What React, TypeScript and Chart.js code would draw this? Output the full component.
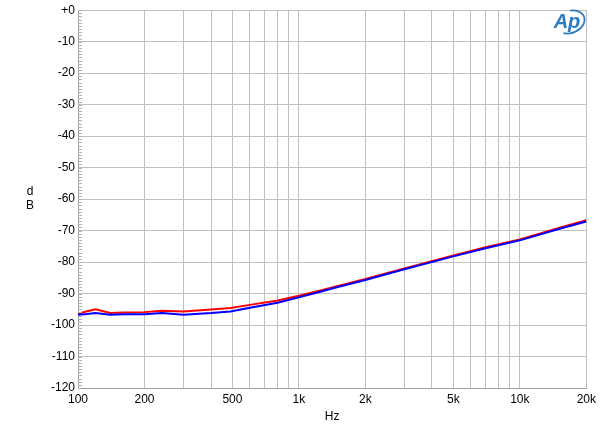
import React, { useEffect, useRef } from "react";
import { Chart, registerables } from "chart.js";

Chart.register(...registerables);

const freqs = [100, 110, 120, 140, 160, 200, 240, 300, 400, 490, 600, 800, 1000, 1250, 1500, 2000, 3000, 5000, 7000, 10000, 15000, 20000];
const redDb = [-96.4, -95.6, -95.0, -96.2, -96.0, -95.9, -95.5, -95.7, -95.1, -94.6, -93.6, -92.2, -90.7, -89.0, -87.6, -85.4, -82.0, -77.9, -75.3, -72.8, -69.2, -66.7];
const blueDb = [-96.7, -96.5, -96.2, -96.7, -96.6, -96.6, -96.2, -96.7, -96.2, -95.7, -94.5, -92.9, -91.2, -89.4, -87.9, -85.7, -82.3, -78.2, -75.6, -73.1, -69.5, -67.1];

const xGridValues = [100, 200, 300, 400, 500, 600, 700, 800, 900, 1000, 2000, 3000, 4000, 5000, 6000, 7000, 8000, 9000, 10000, 20000];
const xLabelValues = [100, 200, 500, 1000, 2000, 5000, 10000, 20000];
const xLabelTexts = ["100", "200", "500", "1k", "2k", "5k", "10k", "20k"];
const yMin = -120;
const yMax = 0;
const yStep = 10;
const yMinorStep = 1;

const FONT = "'Liberation Sans', Arial, sans-serif";

const extrasPlugin = {
  id: "extras",
  afterDraw(chart: any) {
    const ctx = chart.ctx;
    const y = chart.scales.y;
    const area = chart.chartArea;
    ctx.save();
    // minor ticks
    ctx.strokeStyle = "#b0b0b0";
    ctx.lineWidth = 1;
    for (let v = yMin; v <= yMax; v += yMinorStep) {
      const py = Math.round(y.getPixelForValue(v)) + 0.5;
      ctx.beginPath();
      ctx.moveTo(area.left, py);
      ctx.lineTo(area.left + 4, py);
      ctx.stroke();
    }
    // dB label
    ctx.fillStyle = "#000";
    ctx.font = `12px ${FONT}`;
    ctx.textAlign = "center";
    ctx.textBaseline = "middle";
    const cy = (area.top + area.bottom) / 2;
    ctx.fillText("d", 30, cy - 7);
    ctx.fillText("B", 30, cy + 7);
    // Ap logo
    ctx.fillStyle = "#2a7cc4";
    ctx.strokeStyle = "#2a7cc4";
    ctx.font = `italic bold 20px ${FONT}`;
    ctx.textAlign = "center";
    ctx.fillText("Ap", 567, 22);
    ctx.lineWidth = 1.8;
    ctx.beginPath();
    ctx.ellipse(570, 22, 15, 11, -0.35, -1.3, 2.3);
    ctx.stroke();
    ctx.restore();
  },
};

export default function App() {
  const ref = useRef<HTMLCanvasElement>(null);
  useEffect(() => {
    document.body.style.margin = "0";
    const canvas = ref.current!;
    const chart = new Chart(canvas, {
      type: "line",
      data: {
        datasets: [
          {
            label: "blue",
            data: freqs.map((f, i) => ({ x: f, y: blueDb[i] })),
            borderColor: "#0000ff",
            borderWidth: 2,
            pointRadius: 0,
            tension: 0,
          },
          {
            label: "red",
            data: freqs.map((f, i) => ({ x: f, y: redDb[i] })),
            borderColor: "#ff0000",
            borderWidth: 2,
            pointRadius: 0,
            tension: 0,
          },
        ],
      },
      options: {
        animation: false,
        responsive: false,
        devicePixelRatio: 1,
        layout: { padding: { left: 0, right: 11, top: 9, bottom: 0 } },
        plugins: { legend: { display: false }, tooltip: { enabled: false } },
        scales: {
          x: {
            type: "logarithmic",
            min: 100,
            max: 20000,
            afterBuildTicks: (scale: any) => {
              scale.ticks = xGridValues.map((v) => ({ value: v }));
            },
            afterFit: (scale: any) => {
              scale.height = 43;
            },
            ticks: {
              autoSkip: false,
              maxRotation: 0,
              padding: 4,
              color: "#000",
              font: { family: FONT, size: 12 },
              callback: (v: any) => {
                const i = xLabelValues.indexOf(Number(v));
                return i >= 0 ? xLabelTexts[i] : "";
              },
            },
            grid: { color: "#c0c0c0", drawTicks: false },
            border: { color: "#a0a0a0" },
            title: {
              display: true,
              text: "Hz",
              color: "#000",
              font: { family: FONT, size: 12 },
              padding: { top: 0, bottom: 7 },
            },
          },
          y: {
            type: "linear",
            min: yMin,
            max: yMax,
            afterFit: (scale: any) => {
              scale.width = 78;
            },
            ticks: {
              stepSize: yStep,
              padding: 3,
              color: "#000",
              font: { family: FONT, size: 12 },
              callback: (v: any) => (Number(v) === 0 ? "+0" : String(v)),
            },
            grid: { color: "#c0c0c0", drawTicks: false },
            border: { color: "#a0a0a0" },
          },
        },
      },
      plugins: [extrasPlugin],
    } as any);
    return () => chart.destroy();
  }, []);
  return (
    <div style={{ width: 600, height: 431, background: "#fff" }}>
      <canvas ref={ref} width={600} height={431} style={{ display: "block" }} />
    </div>
  );
}
